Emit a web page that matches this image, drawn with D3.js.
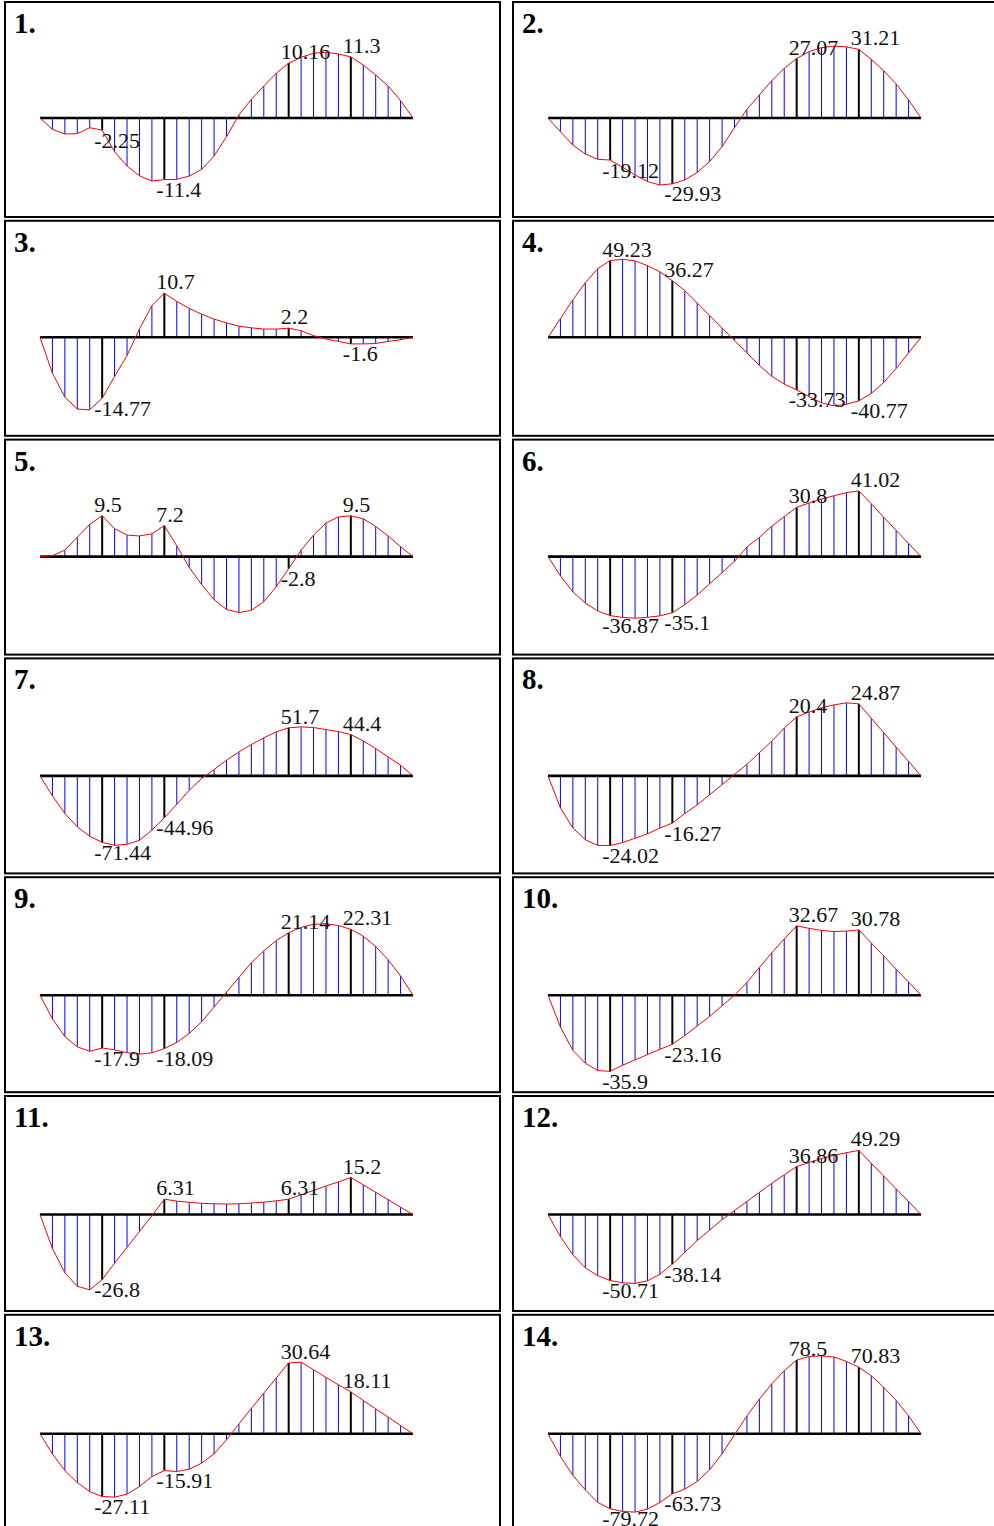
<!DOCTYPE html>
<html>
<head>
<meta charset="utf-8">
<script src="https://cdn.jsdelivr.net/npm/d3@7"></script>
<style>
body { margin: 0; background: #fff; }
svg { display: block; }
</style>
</head>
<body>
<script>
// moment values at the 31 stations of each beam (stations 5, 10, 20, 25 are labelled)
var labelIdx = [5, 10, 20, 25];

var m1 = [0, -2.1, -2.96, -2.9, -1.79, -2.25, -6.23, -8.89, -10.68, -11.67, -11.4, -11.36, -10.74, -9.51, -7.04, -3.46, 0.56, 3.46, 5.93, 8.27, 10.16, 11.23, 11.98, 12.16, 11.85, 11.3, 9.81, 7.96, 5.93, 3.21, 0];
var m2 = [0, -6.2, -12.3, -16.4, -18.8, -19.12, -22.4, -25.9, -28.9, -30.5, -29.93, -28.2, -24.8, -19.8, -13.0, -4.4, 3.9, 10.5, 17.0, 22.6, 27.07, 30.2, 32.0, 32.7, 32.4, 31.21, 26.7, 21.5, 15.5, 8.2, 0];
var m3 = [0, -8.7, -14.5, -17.4, -17.6, -14.77, -9.5, -4.4, 2.0, 7.7, 10.7, 8.7, 7.0, 5.6, 4.4, 3.5, 2.7, 2.3, 2.0, 2.0, 2.2, 1.6, 0.4, -0.4, -1.0, -1.6, -1.6, -1.5, -1.0, -0.6, 0];
var m4 = [0, 12, 24, 35, 44, 49.23, 50, 49, 46, 42, 36.27, 30, 22, 14, 6, -2, -10, -18, -25, -30, -33.73, -38, -42, -44, -43, -40.77, -36, -29, -20, -10, 0];
var m5 = [0, 0.2, 1.5, 4.5, 7.5, 9.5, 6.5, 5.0, 4.8, 5.3, 7.2, 2.5, -2.5, -6.5, -10, -12.3, -13, -12.5, -10.5, -7, -2.8, 1.5, 5, 7.8, 9.2, 9.5, 8.8, 7, 4.8, 2.3, 0];
var m6 = [0, -12, -22, -29, -34, -36.87, -38, -38.5, -38, -37, -35.1, -30, -24, -17, -10, -3, 6, 12, 19, 25, 30.8, 33.5, 36, 38, 40, 41.02, 33, 24.6, 16.4, 8.2, 0];
var m7 = [0, -21.5, -40.5, -54.8, -64.9, -71.44, -74.6, -73.5, -69.2, -58.4, -44.96, -30.5, -15.4, -2.9, 6.8, 16.8, 25.8, 33.7, 40.9, 47.3, 51.7, 52.7, 52.0, 49.8, 47.7, 44.4, 37.6, 29.4, 20.4, 11.5, 0];
var m8 = [0, -11, -18, -22, -24, -24.02, -23, -21.5, -20, -18, -16.27, -13, -10, -6.5, -3, 0.5, 4, 8, 12, 16.5, 20.4, 22, 23.5, 24.5, 25.2, 24.87, 19.9, 14.9, 9.9, 5, 0];
var m9 = [0, -8, -14, -17.5, -19, -17.9, -18.5, -19.5, -20, -19.5, -18.09, -16, -13, -9, -4, 1, 6, 11, 15, 18.5, 21.14, 23, 24, 24.2, 23.6, 22.31, 20, 16.5, 12, 6.5, 0];
var m10 = [0, -15, -26, -32, -35.5, -35.9, -33, -30.5, -28, -25.5, -23.16, -19, -14.5, -10, -5, 0, 6, 13, 20, 26.5, 32.67, 31.5, 30.5, 30, 30.2, 30.78, 24.6, 18.5, 12.3, 6.2, 0];
var m11 = [0, -14, -24, -29.5, -31, -26.8, -20, -13.5, -7, -0.5, 6.31, 5.5, 5, 4.6, 4.4, 4.3, 4.4, 4.7, 5.1, 5.6, 6.31, 8.1, 9.9, 11.7, 13.4, 15.2, 12.2, 9.1, 6.1, 3, 0];
var m12 = [0, -17, -31, -41, -47, -50.71, -52.5, -53, -51, -46, -38.14, -29, -20, -12, -4, 3, 10, 17, 24, 30.5, 36.86, 40, 43, 45.5, 47.5, 49.29, 39.4, 29.6, 19.7, 9.9, 0];
var m13 = [0, -8.7, -15.9, -21.1, -25.0, -27.11, -27.4, -26.1, -22.8, -18.5, -15.91, -16.3, -15.3, -12.7, -8.7, -2.6, 4.3, 11.0, 17.6, 24.1, 30.64, 31.0, 27.7, 24.4, 21.2, 18.11, 14.4, 10.8, 7.2, 3.6, 0];
var m14 = [0, -24.1, -44.3, -59.6, -73.0, -79.72, -82.6, -83.3, -80.1, -73.0, -63.73, -58.9, -50.7, -38.3, -21.3, -1.1, 19.1, 36.9, 53.2, 67.0, 78.5, 82.3, 83.0, 81.6, 77.0, 70.83, 61.7, 49.6, 35.5, 19.1, 0];

var labels = [
    ["-2.25", "-11.4", "10.16", "11.3"],
    ["-19.12", "-29.93", "27.07", "31.21"],
    ["-14.77", "10.7", "2.2", "-1.6"],
    ["49.23", "36.27", "-33.73", "-40.77"],
    ["9.5", "7.2", "-2.8", "9.5"],
    ["-36.87", "-35.1", "30.8", "41.02"],
    ["-71.44", "-44.96", "51.7", "44.4"],
    ["-24.02", "-16.27", "20.4", "24.87"],
    ["-17.9", "-18.09", "21.14", "22.31"],
    ["-35.9", "-23.16", "32.67", "30.78"],
    ["-26.8", "6.31", "6.31", "15.2"],
    ["-50.71", "-38.14", "36.86", "49.29"],
    ["-27.11", "-15.91", "30.64", "18.11"],
    ["-79.72", "-63.73", "78.5", "70.83"]
];

// value that maps to 80px from the axis, per panel
var yMax = [14.8, 36.4, 19.4, 51.3, 18.6, 50, 86, 27.6, 27.1, 37.7, 32.9, 61.5, 34.6, 85.1];

var panels = [m1, m2, m3, m4, m5, m6, m7, m8, m9, m10, m11, m12, m13, m14];

var svg = d3.select("body").append("svg").attr("width", 994).attr("height", 1526);

panels.forEach(function(vals, p) {
    var col = p % 2, row = Math.floor(p / 2);
    var left = col ? 513 : 5;
    var top = 2 + row * 218.8;
    var base = 118 + row * 219.3;

    var g = svg.append("g");
    g.append("rect").attr("x", left).attr("y", top).attr("width", 495).attr("height", 215)
        .attr("fill", "none").attr("stroke", "#000").attr("stroke-width", 2);

    g.append("text").attr("x", left + 9).attr("y", top + 31)
        .style("font", "bold 29px 'Liberation Serif', serif").attr("fill", "#000").text((p + 1) + ".");

    var x = d3.scaleLinear().domain([0, 30]).range([left + 35, left + 408]);
    var y = d3.scaleLinear().domain([-yMax[p], yMax[p]]).range([base + 80, base - 80]);

    var idx = d3.range(1, 30);
    g.selectAll(".hatch").data(idx).enter().append("line")
        .attr("x1", i => x(i)).attr("x2", i => x(i))
        .attr("y1", y(0)).attr("y2", i => y(vals[i]))
        .attr("stroke", i => labelIdx.indexOf(i) >= 0 ? "#000" : "#00f")
        .attr("stroke-width", i => labelIdx.indexOf(i) >= 0 ? 2 : 1);

    g.append("line").attr("x1", x(0)).attr("x2", x(30)).attr("y1", y(0)).attr("y2", y(0))
        .attr("stroke", "#000").attr("stroke-width", 2.6);

    var line = d3.line().x((d, i) => x(i)).y(d => y(d));
    g.append("path").datum(vals).attr("fill", "none").attr("stroke", "#f00").attr("stroke-width", 1).attr("d", line);

    labels[p].forEach(function(t, k) {
        var v = +t;
        g.append("text").attr("x", x(labelIdx[k]) - 8).attr("y", y(v) + (v < 0 ? 17.5 : -4))
            .style("font", "22px 'Liberation Serif', serif").attr("fill", "#111").text(t);
    });
});
</script>
</body>
</html>
